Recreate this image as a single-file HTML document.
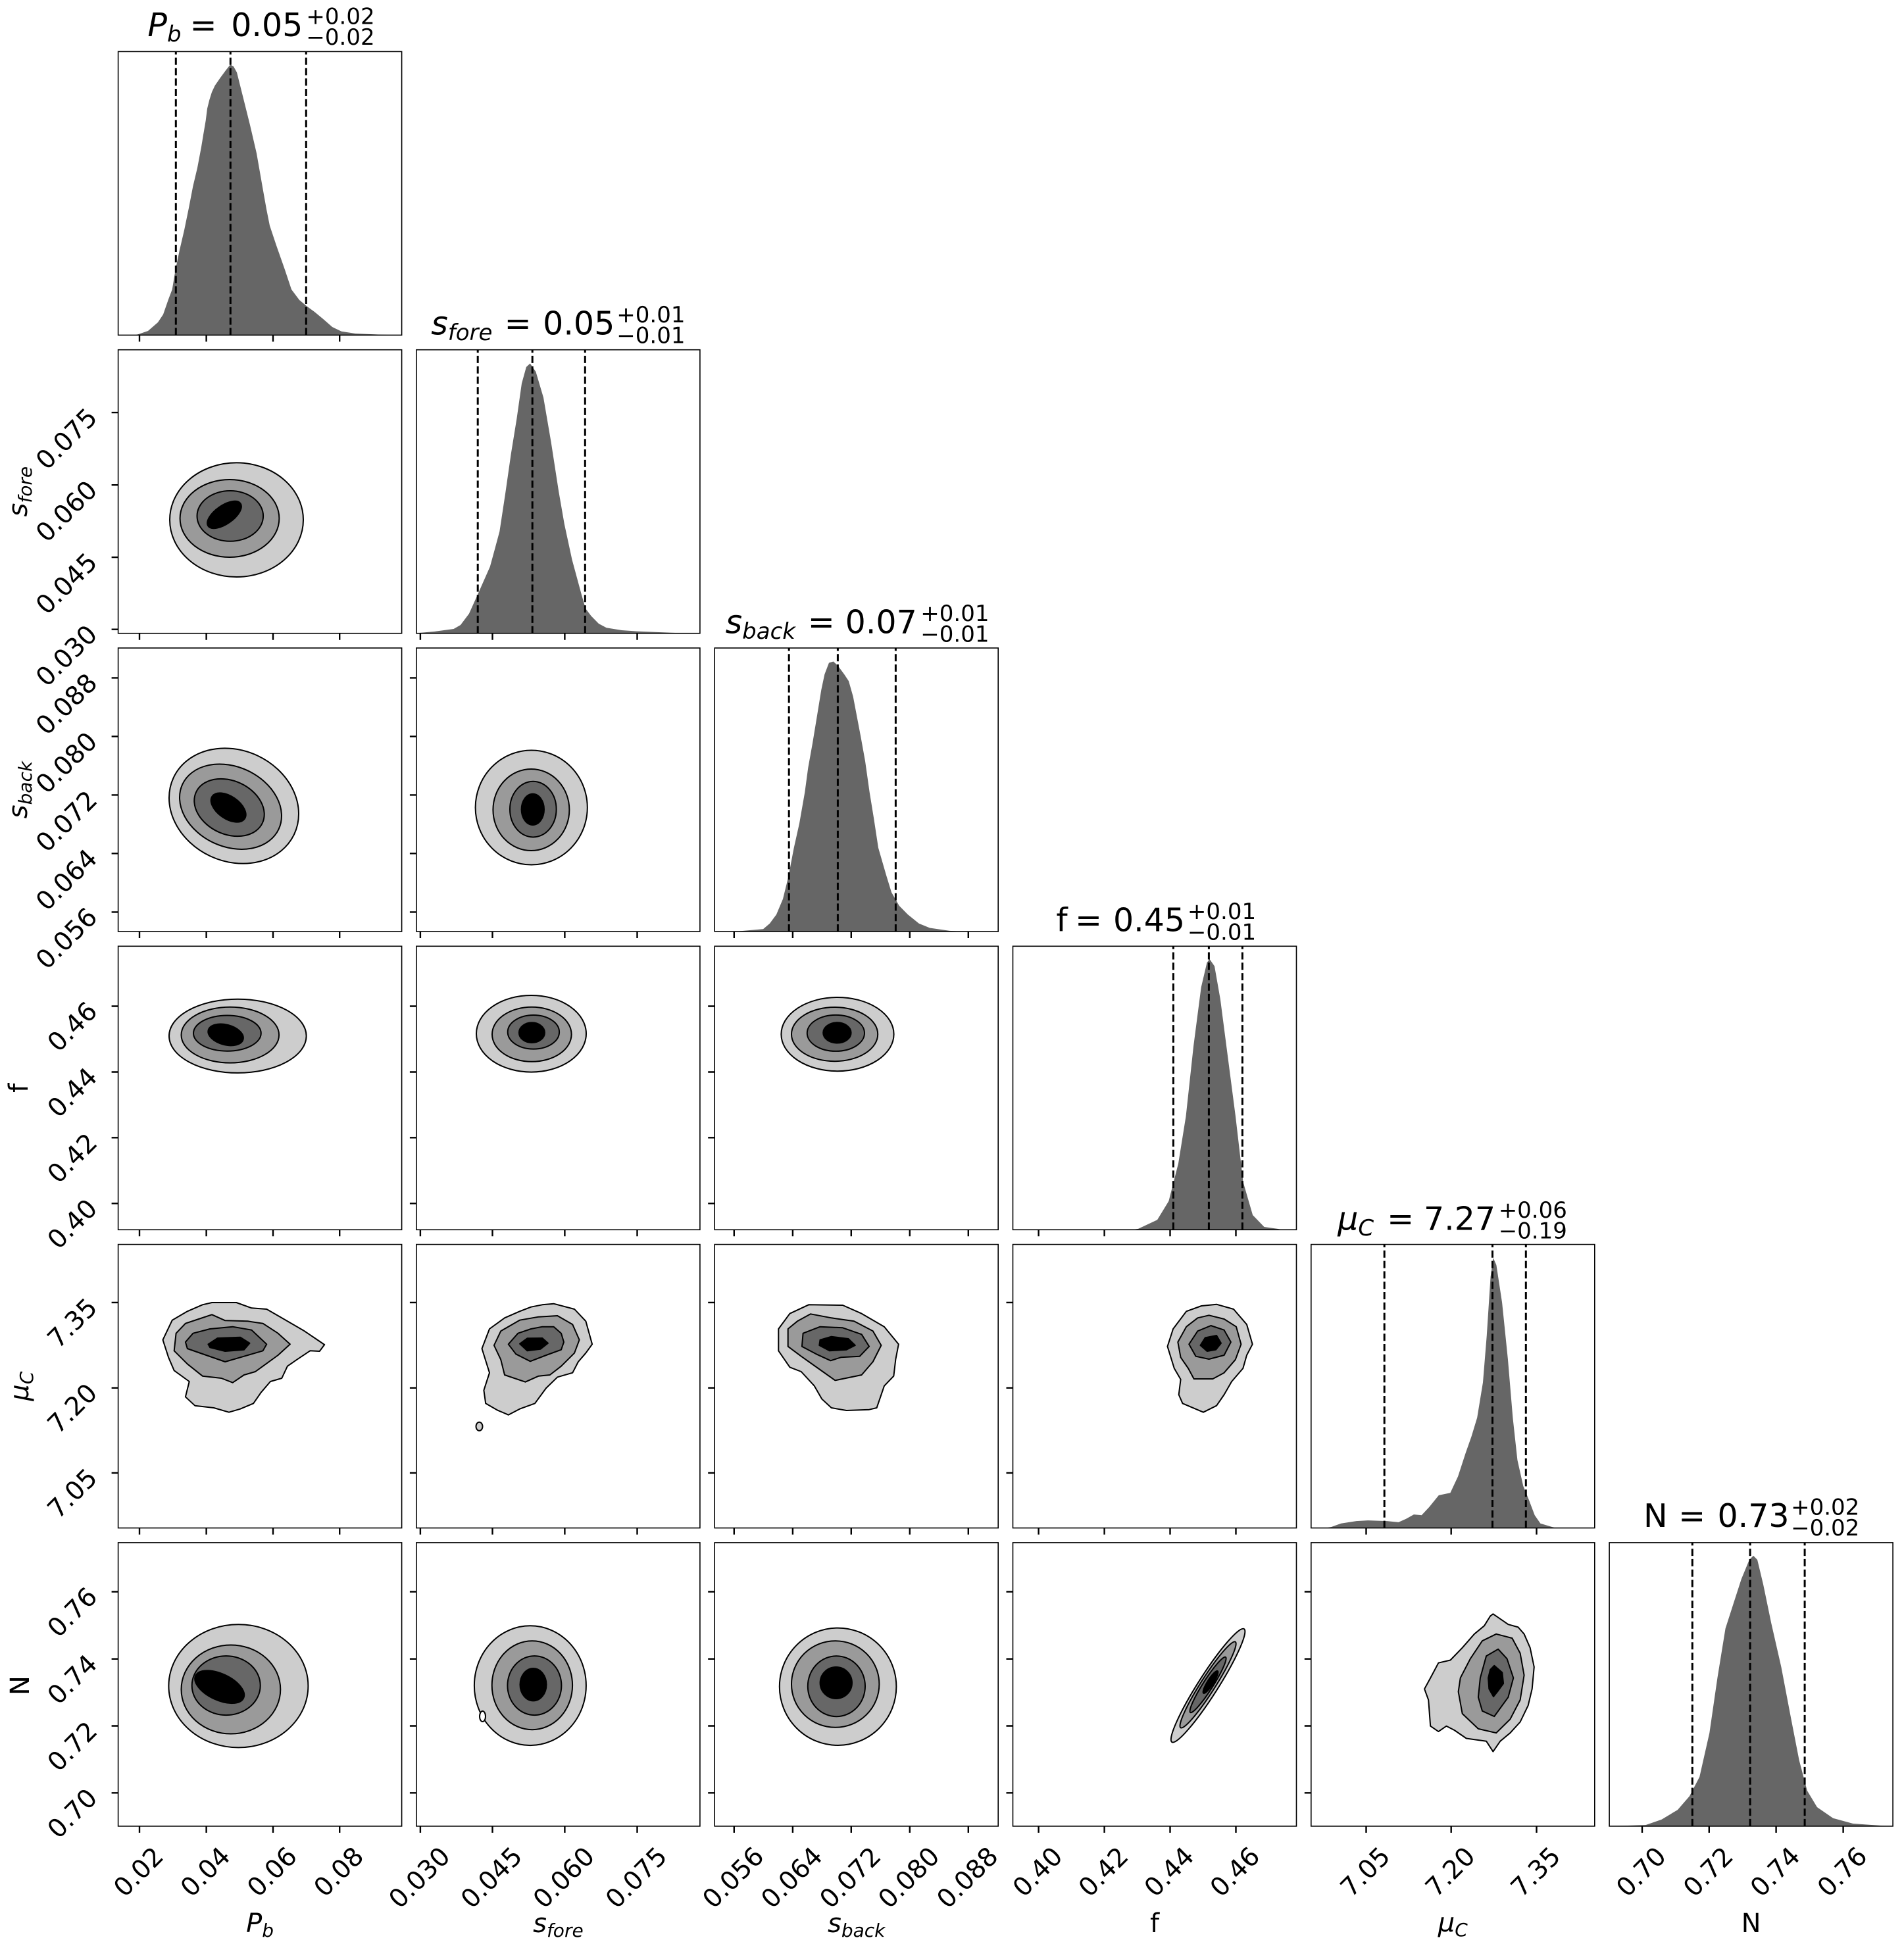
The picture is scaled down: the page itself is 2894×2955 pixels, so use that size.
<!DOCTYPE html>
<html>
<head>
<meta charset="utf-8">
<style>
html,body{margin:0;padding:0;background:#fff;}
svg{display:block;}
text{font-family:"DejaVu Sans","Liberation Sans",sans-serif;fill:#000;}
.tk{font-size:39px;}
.ti{font-size:49px;}
.sc{font-size:34px;}
.lb{font-size:40px;}
.l1{fill:#cdcdcd;stroke:#000;stroke-width:2;stroke-linejoin:round;}
.l2{fill:#9a9a9a;stroke:#000;stroke-width:2;stroke-linejoin:round;}
.l3{fill:#676767;stroke:#000;stroke-width:2;stroke-linejoin:round;}
.l4{fill:#000;stroke:#000;stroke-width:2;stroke-linejoin:round;}
.hist{fill:#666666;stroke:none;}
.dash{stroke:#000;stroke-width:3;stroke-dasharray:11 4.8;fill:none;}
.frame{fill:none;stroke:#000;stroke-width:1.6;}
.tick{stroke:#000;stroke-width:2.4;fill:none;}
</style>
</head>
<body>
<svg width="2894" height="2955" viewBox="0 0 2894 2955" xmlns="http://www.w3.org/2000/svg">
<rect x="0" y="0" width="2894" height="2955" fill="#fff"/>

<!-- ===== Diagonal histograms ===== -->
<polygon class="hist" points="205,509.4 210.4,508 225,503 240,490 248,478 256,455 261.7,440 266.7,410 273,380 280,350 287,316 293.3,283.3 300,255 306,223.3 309,205 312.7,183.3 315,165 318.3,151.7 322,140 326.7,130 335,118 343.3,106.7 350,98.3 355,101 360,110 365,130 371.7,156.7 380,190 390,233 400,290 405,318 410,343 420,373 433,410 443,440 455,456 466.5,465.6 478,474 491,484.7 505,497 519,503.8 540,507 575,508.5 600,509.4"/>
<path class="dash" d="M267.3 509.4V78.4M350.3 509.4V78.4M465.3 509.4V78.4"/>

<polygon class="hist" points="633,962.7 637.4,962 660,960 689.6,956 700,950 712.9,932.9 727.4,900.7 744.8,861.4 752,835 759.3,807.9 768,750.7 776.7,690 785.4,636.4 793,582.9 799.9,557.9 805.7,552.5 814.4,565 826,604.3 837.6,672 849.2,747 857.9,797 869.5,850.7 884,904.3 890,925 898.6,936.4 910,948 921.8,954.3 945,958 968.2,959.6 1026.2,962 1040,962.7"/>
<path class="dash" d="M726.2 962.7V531.7M809.2 962.7V531.7M889.3 962.7V531.7"/>

<polygon class="hist" points="1110,1416 1121.7,1415.6 1160,1412.2 1170,1403.7 1180,1390.2 1190,1366.5 1198.3,1332.7 1206.7,1288.8 1215,1251.6 1223.3,1204.3 1228.3,1167.1 1235,1129.9 1241.7,1089.3 1248.3,1048.7 1253.3,1025.1 1260,1007.5 1266.7,1005.5 1273.3,1011.6 1283.3,1025.1 1290,1035.2 1296.7,1058.9 1308.3,1119.7 1315,1156.9 1321.7,1204.3 1328.3,1244.8 1335,1288.8 1346.7,1329.3 1355,1356.4 1366.7,1376.7 1380,1390.2 1396.7,1403.7 1413.3,1410.5 1443.3,1414.9 1463.3,1416"/>
<path class="dash" d="M1199.2 1416V985M1273.4 1416V985M1361.4 1416V985"/>

<polygon class="hist" points="1720,1869.3 1730,1867.9 1759,1854.3 1776.4,1825.7 1791,1768.6 1802.5,1697 1814.1,1590 1825.7,1500.7 1834.5,1463.2 1838.5,1457.9 1846,1468.6 1854.8,1518.6 1866.4,1607.9 1878,1697 1889.6,1797 1904.1,1847 1921.5,1865 1941.8,1867.9 1950,1869.3"/>
<path class="dash" d="M1783.4 1869.3V1438.3M1837.4 1869.3V1438.3M1888.4 1869.3V1438.3"/>

<polygon class="hist" points="2015,2322.6 2023.7,2321 2038.3,2315.7 2061.6,2312.1 2079.1,2311.1 2108.2,2312.1 2125.7,2313.9 2137.4,2308.6 2149,2302.1 2160.7,2303.2 2172.4,2290.7 2186.9,2272.9 2204.4,2269.3 2216.1,2244.3 2227.7,2208.6 2236.5,2183.6 2245.2,2155 2254,2101.4 2259.8,2030 2265.6,1940.7 2269.7,1912.1 2274.4,1922.9 2283.1,1980 2291.9,2065.7 2299.4,2155 2306.4,2219.3 2315.2,2258.6 2323.9,2280 2332.7,2303.2 2341.4,2315.7 2358.9,2321 2365,2322.6"/>
<path class="dash" d="M2104.2 2322.6V1891.6M2268.5 2322.6V1891.6M2319.3 2322.6V1891.6"/>

<polygon class="hist" points="2446.9,2775.9 2501.4,2774.1 2525.6,2765.7 2549.9,2751.1 2568,2730.2 2583.2,2701 2598.3,2634.2 2610.4,2550.6 2622.6,2475.4 2634.7,2437.8 2646.8,2400.3 2658.9,2371 2665,2364.7 2671.1,2371 2680.1,2408.6 2692.2,2467.1 2707.4,2533.9 2722.5,2613.3 2734.7,2675.9 2746.8,2721.9 2761.9,2747 2786.2,2763.7 2816.5,2772 2871,2775.9"/>
<path class="dash" d="M2572.3 2775.9V2344.9M2660.1 2775.9V2344.9M2743.1 2775.9V2344.9"/>

<!-- ===== 2D contour panels ===== -->
<ellipse class="l1" cx="359.5" cy="790.2" rx="101.5" ry="86.8"/>
<ellipse class="l2" cx="349" cy="788" rx="75.4" ry="59"/>
<ellipse class="l3" cx="349.8" cy="784.4" rx="50.3" ry="38.4"/>
<ellipse class="l4" cx="341" cy="782.5" rx="30" ry="14" transform="rotate(-35 341 782.5)"/>

<ellipse class="l1" cx="355.5" cy="1225" rx="101.3" ry="84.4" transform="rotate(25 355.5 1225)"/>
<ellipse class="l2" cx="350.5" cy="1226.2" rx="80.7" ry="60.7" transform="rotate(25 350.5 1226.2)"/>
<ellipse class="l3" cx="348.5" cy="1227.5" rx="55.6" ry="40.6" transform="rotate(25 348.5 1227.5)"/>
<ellipse class="l4" cx="347.2" cy="1227.5" rx="30" ry="17" transform="rotate(35 347.2 1227.5)"/>
<ellipse class="l1" cx="807.7" cy="1227.5" rx="85.1" ry="87"/>
<ellipse class="l2" cx="807.4" cy="1231" rx="58" ry="62"/>
<ellipse class="l3" cx="810.3" cy="1230.1" rx="35.3" ry="42.4"/>
<ellipse class="l4" cx="809.8" cy="1230.4" rx="17.2" ry="23.6"/>

<ellipse class="l1" cx="361.3" cy="1574.8" rx="104.3" ry="56.1"/>
<ellipse class="l2" cx="349.8" cy="1573.2" rx="74.3" ry="42.4"/>
<ellipse class="l3" cx="345.4" cy="1570.6" rx="51.4" ry="27.1"/>
<ellipse class="l4" cx="343.1" cy="1572.9" rx="27.4" ry="15.3" transform="rotate(15 343.1 1572.9)"/>
<ellipse class="l1" cx="807.5" cy="1571.3" rx="83.5" ry="58.3"/>
<ellipse class="l2" cx="808.3" cy="1572.3" rx="60.3" ry="41.5"/>
<ellipse class="l3" cx="810.9" cy="1568.8" rx="39.2" ry="25.8"/>
<ellipse class="l4" cx="808.4" cy="1569.7" rx="19.5" ry="15.3"/>
<ellipse class="l1" cx="1273" cy="1572.1" rx="85.6" ry="56.1"/>
<ellipse class="l2" cx="1268.6" cy="1572.1" rx="65.6" ry="41.1"/>
<ellipse class="l3" cx="1270.4" cy="1570.4" rx="43.6" ry="27.5"/>
<ellipse class="l4" cx="1272.4" cy="1569.9" rx="21.2" ry="15.6"/>

<polygon class="l1" points="322.1,1980 359.4,1980 382.4,1988.3 405.3,1990 428.3,2003.3 462.7,2023.3 480,2035 493.2,2044 485.7,2054 471.3,2053.3 451.3,2066.7 436.9,2076.7 428.3,2095 411,2100 396.7,2116.7 385.2,2133.3 365.2,2141.7 348,2146.7 325,2140 296.3,2136.7 281.9,2123.3 287.7,2100 264.7,2083.3 256.1,2063.3 247.5,2036.7 261.8,2006.7 284.8,1993.3 307.8,1983.3"/>
<polygon class="l2" points="322.1,1998.3 342.2,2007.3 376.6,2008.3 399.6,2011.7 422.6,2026.7 440.9,2043.3 422.6,2060 399.6,2076.7 388.1,2085 370.9,2090 353.7,2101.7 336.5,2095 307.8,2091.7 284.8,2073.3 264.7,2053.3 267.6,2026.7 281.9,2011.7 302,2005"/>
<polygon class="l3" points="293.4,2026.7 319.2,2020 353.7,2016.7 382.4,2021.7 405.3,2043.3 399.6,2053.3 370.9,2061.7 342.2,2070 313.5,2060 284.8,2050 281.9,2040"/>
<polygon class="l4" points="316.4,2043.3 330.7,2034 365.2,2032.7 379.5,2041.7 370.9,2051.7 342.2,2054 319.2,2048.3"/>
<polygon class="l1" points="841.6,1981.7 873.1,1990 890.4,2008.3 900.1,2043.3 890.4,2056.7 878.9,2070 870.3,2086.7 847.3,2093.3 830.1,2110 813,2133.3 789.9,2141.7 772.7,2150.7 755.5,2143.3 738.2,2133.3 735.4,2113.3 744,2086.7 732.5,2050 744,2020 767,2003.3 789.9,1993.3 807.1,1986.7 824.3,1983.3"/>
<polygon class="l2" points="847.3,2000 870.3,2013.3 880.6,2036.7 873.1,2056.7 853,2076.7 835.8,2090 818.6,2091.7 798.5,2100.7 767,2090 761.2,2066.7 750.9,2045 761.2,2023.3 789.9,2006.7 818.6,2001.7"/>
<polygon class="l3" points="824.3,2016.7 841.6,2016.7 853,2026.7 857,2040 853,2051.7 830.1,2060 806,2069.3 784.2,2058.3 772.7,2043.3 787.3,2026.7 807.1,2020"/>
<polygon class="l4" points="790,2042.7 801.4,2034.3 824.3,2034 833,2041.7 821.5,2050.7 801.4,2053.3"/>
<ellipse class="l1" cx="728.5" cy="2168.3" rx="5" ry="6.5"/>
<polygon class="l1" points="1229.2,1983.3 1280.9,1984 1309.6,1996.7 1344,2016.7 1365.8,2043.3 1361.3,2066.7 1358.4,2091.7 1344,2106.7 1332.6,2140 1321.1,2142.7 1286.6,2144 1263.7,2140 1249.3,2126.7 1237.8,2106.7 1217.8,2085 1200.5,2078.3 1183.3,2053.3 1183.3,2020 1200.5,1996.7"/>
<polygon class="l2" points="1232.1,1997.3 1263.7,2003.3 1298.1,2008.3 1326.8,2023.3 1339.4,2045 1326.8,2070 1309.6,2090 1269.4,2098.3 1243.6,2080 1217.8,2061.7 1197.7,2046.7 1197.7,2020 1212,2008.3"/>
<polygon class="l3" points="1246.5,2016.7 1280.9,2018.3 1309.6,2028.3 1321.1,2046.7 1306.7,2061.7 1278,2063.3 1262.5,2068.3 1240.7,2058.3 1218.9,2046.7 1220.6,2026.7"/>
<polygon class="l4" points="1246.5,2036.7 1263.7,2031.7 1289.5,2035 1299.8,2045 1286.6,2051.7 1260.8,2053.3 1245.3,2045"/>
<polygon class="l1" points="1849.1,1982.7 1875,1990 1895,2013.3 1903.7,2043.3 1895,2060 1889.3,2080 1872.1,2100 1860.6,2120 1849.1,2136.7 1829,2146.7 1797.5,2133.3 1791.7,2120 1794.6,2096.7 1784.8,2080 1774.5,2046.7 1783.1,2020 1803.2,1993.3 1826.2,1985"/>
<polygon class="l2" points="1837.6,1999.3 1860.6,2005 1879,2016.7 1886.4,2043.3 1877.8,2066.7 1860.6,2086.7 1843.4,2096 1814.7,2096 1806.1,2080 1794.6,2063.3 1790.3,2040 1803.2,2016.7 1820.4,2003.3"/>
<polygon class="l3" points="1840.5,2015 1860.6,2021.7 1870.9,2040 1860.6,2060 1837.6,2066 1817.6,2061.7 1807.2,2043.3 1820.4,2023.3"/>
<polygon class="l4" points="1831.9,2033.3 1849.1,2030 1856,2041.7 1848,2051.7 1834.8,2054 1824.5,2045"/>

<ellipse class="l1" cx="362.4" cy="2562.8" rx="106" ry="93.6"/>
<ellipse class="l2" cx="350.9" cy="2568" rx="75.4" ry="67.5"/>
<ellipse class="l3" cx="343.7" cy="2562.1" rx="52" ry="45"/>
<ellipse class="l4" cx="333.7" cy="2564.2" rx="40.3" ry="20" transform="rotate(25 333.7 2564.2)"/>
<ellipse class="l1" cx="805.9" cy="2562.2" rx="85" ry="90.9"/>
<ellipse cx="733.5" cy="2609" rx="4.5" ry="8" fill="#fff" stroke="#000" stroke-width="2"/>
<ellipse class="l2" cx="808.9" cy="2561.7" rx="61.2" ry="67.5"/>
<ellipse class="l3" cx="812.4" cy="2562.1" rx="41" ry="45"/>
<ellipse class="l4" cx="810.5" cy="2560.7" rx="20" ry="24.7"/>
<ellipse class="l1" cx="1273.6" cy="2563.8" rx="88.8" ry="89.2"/>
<ellipse class="l2" cx="1269.7" cy="2560" rx="66.7" ry="65.8"/>
<ellipse class="l3" cx="1271.4" cy="2563.2" rx="43.6" ry="46"/>
<ellipse class="l4" cx="1270.8" cy="2558" rx="24.2" ry="24"/>
<ellipse class="l1" cx="1836.1" cy="2562.1" rx="102" ry="15" transform="rotate(-57.5 1836.1 2562.1)"/>
<ellipse class="l2" cx="1836.1" cy="2561" rx="77.4" ry="11" transform="rotate(-57.5 1836.1 2561)"/>
<ellipse class="l3" cx="1836.1" cy="2561" rx="49.9" ry="7.5" transform="rotate(-57.5 1836.1 2561)"/>
<ellipse class="l4" cx="1840" cy="2556.9" rx="20" ry="4.5" transform="rotate(-57.5 1840 2556.9)"/>
<polygon class="l1" points="2269.4,2453.3 2280.3,2460.8 2292.4,2469.2 2307.5,2473.4 2316.6,2483.8 2325.7,2504.7 2331.8,2533.9 2328.7,2567.3 2322.7,2592.4 2310.6,2617.5 2295.4,2634.2 2280.3,2646.7 2269.4,2662.6 2259.1,2646.7 2228.8,2642.5 2210.6,2630 2198.5,2623.7 2186.4,2632.1 2174.2,2623.7 2171.2,2584 2165.1,2567.3 2174.2,2550.6 2186.4,2527.7 2204.5,2523.5 2222.7,2504.7 2240.9,2483.8 2256,2471.3 2265.1,2456.6"/>
<polygon class="l2" points="2274.2,2483.8 2298.4,2490.1 2310.6,2513 2316.6,2546.4 2310.6,2584 2295.4,2613.3 2274.2,2634.2 2246.9,2627.9 2222.7,2604.9 2216.6,2571.5 2219.7,2550.6 2234.8,2521.4 2253,2494.2"/>
<polygon class="l3" points="2277.2,2506.8 2290.6,2521.4 2300.3,2550.6 2292.4,2579.9 2271.2,2609.1 2253,2600.8 2246.9,2579.9 2249.9,2550.6 2259.1,2517.2"/>
<polygon class="l4" points="2271.2,2531.8 2283.3,2542.3 2285.1,2559 2276,2571.5 2270,2579 2263.3,2567.3 2262.1,2550.6 2265.1,2538.1"/>

<!-- ===== Panel frames ===== -->
<g class="frame">
<rect x="179.6" y="78.4" width="431" height="431"/>
<rect x="179.6" y="531.7" width="431" height="431"/>
<rect x="632.9" y="531.7" width="431" height="431"/>
<rect x="179.6" y="985" width="431" height="431"/>
<rect x="632.9" y="985" width="431" height="431"/>
<rect x="1086.2" y="985" width="431" height="431"/>
<rect x="179.6" y="1438.3" width="431" height="431"/>
<rect x="632.9" y="1438.3" width="431" height="431"/>
<rect x="1086.2" y="1438.3" width="431" height="431"/>
<rect x="1539.5" y="1438.3" width="431" height="431"/>
<rect x="179.6" y="1891.6" width="431" height="431"/>
<rect x="632.9" y="1891.6" width="431" height="431"/>
<rect x="1086.2" y="1891.6" width="431" height="431"/>
<rect x="1539.5" y="1891.6" width="431" height="431"/>
<rect x="1992.8" y="1891.6" width="431" height="431"/>
<rect x="179.6" y="2344.9" width="431" height="431"/>
<rect x="632.9" y="2344.9" width="431" height="431"/>
<rect x="1086.2" y="2344.9" width="431" height="431"/>
<rect x="1539.5" y="2344.9" width="431" height="431"/>
<rect x="1992.8" y="2344.9" width="431" height="431"/>
<rect x="2446.1" y="2344.9" width="431" height="431"/>
</g>

<!-- ===== Ticks ===== -->
<path class="tick" d="
M212 509.4v10M313.6 509.4v10M415 509.4v10M516.2 509.4v10
M212 962.7v10M313.6 962.7v10M415 962.7v10M516.2 962.7v10
M638.9 962.7v10M748.5 962.7v10M858.4 962.7v10M968.5 962.7v10
M212 1416v10M313.6 1416v10M415 1416v10M516.2 1416v10
M638.9 1416v10M748.5 1416v10M858.4 1416v10M968.5 1416v10
M1115.8 1416v10M1204.9 1416v10M1293.8 1416v10M1382.8 1416v10M1471.8 1416v10
M212 1869.3v10M313.6 1869.3v10M415 1869.3v10M516.2 1869.3v10
M638.9 1869.3v10M748.5 1869.3v10M858.4 1869.3v10M968.5 1869.3v10
M1115.8 1869.3v10M1204.9 1869.3v10M1293.8 1869.3v10M1382.8 1869.3v10M1471.8 1869.3v10
M1578.6 1869.3v10M1678.6 1869.3v10M1778.5 1869.3v10M1878.5 1869.3v10
M212 2322.6v10M313.6 2322.6v10M415 2322.6v10M516.2 2322.6v10
M638.9 2322.6v10M748.5 2322.6v10M858.4 2322.6v10M968.5 2322.6v10
M1115.8 2322.6v10M1204.9 2322.6v10M1293.8 2322.6v10M1382.8 2322.6v10M1471.8 2322.6v10
M1578.6 2322.6v10M1678.6 2322.6v10M1778.5 2322.6v10M1878.5 2322.6v10
M2076.5 2322.6v10M2205.7 2322.6v10M2335.5 2322.6v10
M212 2775.9v10M313.6 2775.9v10M415 2775.9v10M516.2 2775.9v10
M638.9 2775.9v10M748.5 2775.9v10M858.4 2775.9v10M968.5 2775.9v10
M1115.8 2775.9v10M1204.9 2775.9v10M1293.8 2775.9v10M1382.8 2775.9v10M1471.8 2775.9v10
M1578.6 2775.9v10M1678.6 2775.9v10M1778.5 2775.9v10M1878.5 2775.9v10
M2076.5 2775.9v10M2205.7 2775.9v10M2335.5 2775.9v10
M2496 2775.9v10M2597.8 2775.9v10M2699.6 2775.9v10M2801.6 2775.9v10
M169.6 956.7h10M169.6 847.1h10M169.6 737.2h10M169.6 627.1h10
M169.6 1386.4h10M169.6 1297.3h10M169.6 1208.4h10M169.6 1119.4h10M169.6 1030.4h10
M622.9 1386.4h10M622.9 1297.3h10M622.9 1208.4h10M622.9 1119.4h10M622.9 1030.4h10
M169.6 1829.3h10M169.6 1729.3h10M169.6 1629.5h10M169.6 1529.5h10
M622.9 1829.3h10M622.9 1729.3h10M622.9 1629.5h10M622.9 1529.5h10
M1076.2 1829.3h10M1076.2 1729.3h10M1076.2 1629.5h10M1076.2 1529.5h10
M169.6 2238.9h10M169.6 2109.7h10M169.6 1979.9h10
M622.9 2238.9h10M622.9 2109.7h10M622.9 1979.9h10
M1076.2 2238.9h10M1076.2 2109.7h10M1076.2 1979.9h10
M1529.5 2238.9h10M1529.5 2109.7h10M1529.5 1979.9h10
M169.6 2725.3h10M169.6 2623.5h10M169.6 2521.7h10M169.6 2419.5h10
M622.9 2725.3h10M622.9 2623.5h10M622.9 2521.7h10M622.9 2419.5h10
M1076.2 2725.3h10M1076.2 2623.5h10M1076.2 2521.7h10M1076.2 2419.5h10
M1529.5 2725.3h10M1529.5 2623.5h10M1529.5 2521.7h10M1529.5 2419.5h10
M1982.8 2725.3h10M1982.8 2623.5h10M1982.8 2521.7h10M1982.8 2419.5h10
"/>

<!-- ===== Y tick labels (col 0) ===== -->
<g class="tk" text-anchor="end">
<text x="150" y="966.7" transform="rotate(-45 150 966.7)">0.030</text>
<text x="150" y="857.1" transform="rotate(-45 150 857.1)">0.045</text>
<text x="150" y="747.2" transform="rotate(-45 150 747.2)">0.060</text>
<text x="150" y="637.1" transform="rotate(-45 150 637.1)">0.075</text>
<text x="150" y="1396.4" transform="rotate(-45 150 1396.4)">0.056</text>
<text x="150" y="1307.3" transform="rotate(-45 150 1307.3)">0.064</text>
<text x="150" y="1218.4" transform="rotate(-45 150 1218.4)">0.072</text>
<text x="150" y="1129.4" transform="rotate(-45 150 1129.4)">0.080</text>
<text x="150" y="1040.4" transform="rotate(-45 150 1040.4)">0.088</text>
<text x="150" y="1839.3" transform="rotate(-45 150 1839.3)">0.40</text>
<text x="150" y="1739.3" transform="rotate(-45 150 1739.3)">0.42</text>
<text x="150" y="1639.5" transform="rotate(-45 150 1639.5)">0.44</text>
<text x="150" y="1539.5" transform="rotate(-45 150 1539.5)">0.46</text>
<text x="150" y="2248.9" transform="rotate(-45 150 2248.9)">7.05</text>
<text x="150" y="2119.7" transform="rotate(-45 150 2119.7)">7.20</text>
<text x="150" y="1989.9" transform="rotate(-45 150 1989.9)">7.35</text>
<text x="150" y="2735.3" transform="rotate(-45 150 2735.3)">0.70</text>
<text x="150" y="2633.5" transform="rotate(-45 150 2633.5)">0.72</text>
<text x="150" y="2531.7" transform="rotate(-45 150 2531.7)">0.74</text>
<text x="150" y="2429.5" transform="rotate(-45 150 2429.5)">0.76</text>
</g>

<!-- ===== X tick labels (bottom row) ===== -->
<g class="tk" text-anchor="end">
<text x="250.7" y="2824.1" transform="rotate(-45 250.7 2824.1)">0.02</text>
<text x="352.3" y="2824.1" transform="rotate(-45 352.3 2824.1)">0.04</text>
<text x="453.7" y="2824.1" transform="rotate(-45 453.7 2824.1)">0.06</text>
<text x="554.9" y="2824.1" transform="rotate(-45 554.9 2824.1)">0.08</text>
<text x="686.4" y="2824.1" transform="rotate(-45 686.4 2824.1)">0.030</text>
<text x="796" y="2824.1" transform="rotate(-45 796 2824.1)">0.045</text>
<text x="905.9" y="2824.1" transform="rotate(-45 905.9 2824.1)">0.060</text>
<text x="1016" y="2824.1" transform="rotate(-45 1016 2824.1)">0.075</text>
<text x="1163.3" y="2824.1" transform="rotate(-45 1163.3 2824.1)">0.056</text>
<text x="1252.4" y="2824.1" transform="rotate(-45 1252.4 2824.1)">0.064</text>
<text x="1341.3" y="2824.1" transform="rotate(-45 1341.3 2824.1)">0.072</text>
<text x="1430.3" y="2824.1" transform="rotate(-45 1430.3 2824.1)">0.080</text>
<text x="1519.3" y="2824.1" transform="rotate(-45 1519.3 2824.1)">0.088</text>
<text x="1617.3" y="2824.1" transform="rotate(-45 1617.3 2824.1)">0.40</text>
<text x="1717.3" y="2824.1" transform="rotate(-45 1717.3 2824.1)">0.42</text>
<text x="1817.2" y="2824.1" transform="rotate(-45 1817.2 2824.1)">0.44</text>
<text x="1917.2" y="2824.1" transform="rotate(-45 1917.2 2824.1)">0.46</text>
<text x="2115.2" y="2824.1" transform="rotate(-45 2115.2 2824.1)">7.05</text>
<text x="2244.4" y="2824.1" transform="rotate(-45 2244.4 2824.1)">7.20</text>
<text x="2374.2" y="2824.1" transform="rotate(-45 2374.2 2824.1)">7.35</text>
<text x="2534.7" y="2824.1" transform="rotate(-45 2534.7 2824.1)">0.70</text>
<text x="2636.5" y="2824.1" transform="rotate(-45 2636.5 2824.1)">0.72</text>
<text x="2738.3" y="2824.1" transform="rotate(-45 2738.3 2824.1)">0.74</text>
<text x="2840.3" y="2824.1" transform="rotate(-45 2840.3 2824.1)">0.76</text>
</g>

<!-- ===== X axis labels ===== -->
<g class="lb" text-anchor="middle">
<text x="395.1" y="2937" font-style="italic">P<tspan font-size="28" dy="7">b</tspan></text>
<text x="848.4" y="2937" font-style="italic">s<tspan font-size="28" dy="7">fore</tspan></text>
<text x="1301.7" y="2937" font-style="italic">s<tspan font-size="28" dy="7">back</tspan></text>
<text x="1755" y="2937">f</text>
<text x="2208.3" y="2936" font-style="italic">μ<tspan font-size="28" dy="7">C</tspan></text>
<text x="2661.6" y="2937">N</text>
</g>

<!-- ===== Y axis labels ===== -->
<g class="lb" text-anchor="middle">
<text transform="translate(41 747.2) rotate(-90)" x="0" y="0" font-style="italic">s<tspan font-size="28" dy="7">fore</tspan></text>
<text transform="translate(41 1200.5) rotate(-90)" x="0" y="0" font-style="italic">s<tspan font-size="28" dy="7">back</tspan></text>
<text transform="translate(42 1653.8) rotate(-90)" x="0" y="0">f</text>
<text transform="translate(43 2107.1) rotate(-90)" x="0" y="0" font-style="italic">μ<tspan font-size="28" dy="7">C</tspan></text>
<text transform="translate(44 2562) rotate(-90)" x="0" y="0">N</text>
</g>

<!-- ===== Titles ===== -->
<g text-anchor="middle">
<text class="ti" x="250" y="55" font-style="italic">P<tspan class="sc" dy="8.5">b</tspan></text>
<text class="ti" x="309" y="55">=</text>
<text class="ti" x="405.8" y="55">0.05</text>
<text class="sc" x="517.5" y="36.5">+0.02</text>
<text class="sc" x="517.5" y="68">−0.02</text>

<text class="ti" x="701.8" y="508.6" font-style="italic">s<tspan class="sc" dy="8.5">fore</tspan></text>
<text class="ti" x="787.2" y="508.6">=</text>
<text class="ti" x="879.7" y="508.6">0.05</text>
<text class="sc" x="989.4" y="490.1">+0.01</text>
<text class="sc" x="989.4" y="521.6">−0.01</text>

<text class="ti" x="1155.8" y="962.5" font-style="italic">s<tspan class="sc" dy="8.5">back</tspan></text>
<text class="ti" x="1248.3" y="962.5">=</text>
<text class="ti" x="1339.2" y="962.5">0.07</text>
<text class="sc" x="1451.4" y="944">+0.01</text>
<text class="sc" x="1451.4" y="975.5">−0.01</text>

<text class="ti" x="1614" y="1415.7">f</text>
<text class="ti" x="1654.5" y="1415.7">=</text>
<text class="ti" x="1746.5" y="1415.7">0.45</text>
<text class="sc" x="1857" y="1397.2">+0.01</text>
<text class="sc" x="1857" y="1428.7">−0.01</text>

<text class="ti" x="2060.7" y="1869.3" font-style="italic">μ<tspan class="sc" dy="8.5">C</tspan></text>
<text class="ti" x="2128.7" y="1869.3">=</text>
<text class="ti" x="2218.5" y="1869.3">7.27</text>
<text class="sc" x="2329.8" y="1850.8">+0.06</text>
<text class="sc" x="2329.8" y="1882.3">−0.19</text>

<text class="ti" x="2516.3" y="2321">N</text>
<text class="ti" x="2571.7" y="2321">=</text>
<text class="ti" x="2665" y="2321">0.73</text>
<text class="sc" x="2774.2" y="2302.5">+0.02</text>
<text class="sc" x="2774.2" y="2334">−0.02</text>
</g>
</svg>
</body>
</html>
